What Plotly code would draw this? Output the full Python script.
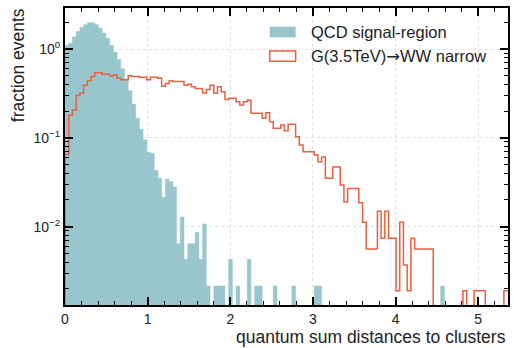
import numpy as np
import plotly.graph_objects as go

# Histogram binning (bin index k covers [k*BIN_WIDTH, (k+1)*BIN_WIDTH])
BIN_WIDTH = 0.045
N_BINS = 119

# Normalised fraction of events per bin, QCD signal-region sample
qcd_fraction = [
    1.10, 1.16, 1.37, 1.57, 1.75, 1.88, 1.98, 1.98, 1.88, 1.72,
    1.51, 1.32, 1.10, 0.92, 0.76, 0.60, 0.46, 0.34, 0.24, 0.165,
    0.125, 0.095, 0.069, 0.067, 0.043, 0.035, 0.0215, 0.0344, 0.0323, 0.028,
    0.00645, 0.0129, 0.0043, 0.00645, 0.00645, 0.0086, 0.0043, 0.01075, 0.00215, 0,
    0.00215, 0.00215, 0.00215, 0, 0.0043, 0, 0.00215, 0, 0, 0.0043,
    0, 0.00215, 0.00215, 0, 0, 0, 0.00215, 0, 0, 0,
    0, 0.00215, 0, 0, 0, 0, 0, 0.00215, 0.00215, 0,
    0, 0, 0, 0, 0, 0, 0, 0, 0, 0,
    0, 0, 0, 0, 0, 0, 0, 0, 0, 0,
    0, 0, 0, 0, 0, 0, 0, 0, 0, 0,
    0, 0.00215, 0, 0, 0, 0, 0, 0, 0, 0,
    0, 0, 0, 0, 0, 0, 0, 0, 0,
]

# Normalised fraction of events per bin, G(3.5 TeV) -> WW narrow signal
signal_fraction = [
    0.065, 0.18, 0.206, 0.30, 0.317, 0.39, 0.44, 0.49, 0.54, 0.54,
    0.52, 0.52, 0.497, 0.51, 0.47, 0.45, 0.45, 0.50, 0.49, 0.49,
    0.48, 0.48, 0.45, 0.48, 0.48, 0.47, 0.38, 0.41, 0.44, 0.43,
    0.43, 0.43, 0.39, 0.40, 0.376, 0.36, 0.36, 0.32, 0.35, 0.39,
    0.317, 0.376, 0.33, 0.27, 0.28, 0.28, 0.255, 0.235, 0.255, 0.265,
    0.189, 0.189, 0.189, 0.166, 0.192, 0.152, 0.128, 0.128, 0.14, 0.12,
    0.142, 0.142, 0.103, 0.083, 0.07, 0.07, 0.07, 0.064, 0.054, 0.061,
    0.035, 0.035, 0.047, 0.047, 0.0295, 0.019, 0.027, 0.027, 0.027, 0.0186,
    0.0112, 0.0056, 0.0056, 0.0056, 0.0149, 0.0074, 0.0149, 0.0074, 0.0074, 0.0019,
    0.0112, 0.0037, 0.0019, 0.0074, 0.0056, 0.0056, 0.0056, 0.0056, 0.0056, 0,
    0, 0, 0, 0, 0, 0, 0, 0.0019, 0, 0,
    0.0019, 0.0019, 0.0019, 0, 0, 0, 0, 0, 0.0019,
]

ARROW = "<span style='font-family:DejaVu Sans'>\u2192</span>"
series_names = ["QCD signal-region", "G(3.5TeV)" + ARROW + "WW narrow"]
x_tick_values = [0, 1, 2, 3, 4, 5]
y_tick_values = [0.01, 0.1, 1]
y_tick_labels = ["10<sup>\u22122</sup>", "10<sup>\u22121</sup>", "10<sup>0</sup>"]

TEAL = "rgb(152,198,204)"
RED = "rgb(232,96,64)"
FONT = "Liberation Sans, Arial, Helvetica, sans-serif"
TEXT = "#222222"

edges = np.arange(N_BINS + 1) * BIN_WIDTH
X_MAX = 5.36
Y_LOG_RANGE = [-2.881, 0.4615]
FLOOR = 1e-5  # empty bins drop below the visible range


def step_outline(values):
    """Corner points of a histogram outline, empty bins sent to FLOOR."""
    v = np.asarray(values, dtype=float)
    v = np.where(v > 0, v, FLOOR)
    xs = np.repeat(edges, 2)[1:-1]
    ys = np.repeat(v, 2)
    xs = np.concatenate([[edges[0]], xs, [edges[-1]]])
    ys = np.concatenate([[FLOOR], ys, [FLOOR]])
    return xs, ys


fig = go.Figure()

# filled histogram (one closed polygon)
qx, qy = step_outline(qcd_fraction)
fig.add_trace(go.Scatter(
    x=qx, y=qy, mode="lines", fill="toself", fillcolor=TEAL,
    line=dict(color=TEAL, width=0.5),
    showlegend=False, hoverinfo="skip",
))

# step-outline histogram
sx, sy = step_outline(signal_fraction)
fig.add_trace(go.Scatter(
    x=sx[:-1], y=sy[:-1], mode="lines",
    line=dict(color=RED, width=1.5),
    showlegend=False, hoverinfo="skip",
))

axis_common = dict(
    showline=True, linecolor="black", linewidth=2, mirror="allticks",
    ticks="inside", ticklen=8, tickwidth=1.5, tickcolor="black",
    showgrid=True, gridcolor="#e0e0e0", griddash="dot", gridwidth=1,
    zeroline=False,
    tickfont=dict(family=FONT, size=14, color=TEXT),
)

minor_y = [k * 10.0 ** e for e in (-3, -2, -1, 0) for k in range(2, 10)]
minor_y = [v for v in minor_y if Y_LOG_RANGE[0] < np.log10(v) < Y_LOG_RANGE[1]]

fig.update_xaxes(
    range=[0, X_MAX], tickmode="array", tickvals=x_tick_values,
    minor=dict(dtick=0.2, tick0=0, ticks="inside", ticklen=4,
               tickwidth=1.2, tickcolor="black", showgrid=False),
    **axis_common,
)
fig.update_yaxes(
    type="log", range=Y_LOG_RANGE, tickmode="array",
    tickvals=y_tick_values, ticktext=y_tick_labels,
    minor=dict(tickmode="array", tickvals=minor_y, ticks="inside", ticklen=4,
               tickwidth=1.2, tickcolor="black", showgrid=False),
    **axis_common,
)

# legend keys and labels
shapes = [
    dict(type="rect", xref="paper", yref="paper",
         x0=0.4622, x1=0.5207, y0=0.901, y1=0.937,
         fillcolor=TEAL, line=dict(width=0)),
    dict(type="rect", xref="paper", yref="paper",
         x0=0.4622, x1=0.5207, y0=0.821, y1=0.855,
         fillcolor="rgba(0,0,0,0)", line=dict(color=RED, width=1.5)),
]
annotations = [
    dict(text=series_names[0], xref="paper", yref="paper", x=0.551, y=0.918,
         xanchor="left", yanchor="middle", showarrow=False,
         font=dict(family=FONT, size=16.5, color=TEXT)),
    dict(text=series_names[1], xref="paper", yref="paper", x=0.551, y=0.837,
         xanchor="left", yanchor="middle", showarrow=False,
         font=dict(family=FONT, size=16.5, color=TEXT)),
    dict(text="quantum sum distances to clusters", xref="paper", yref="paper",
         x=1.0, y=-0.108, xanchor="right", yanchor="middle", showarrow=False,
         font=dict(family=FONT, size=17.5, color=TEXT)),
    dict(text="fraction events", xref="paper", yref="paper",
         x=-0.107, y=0.806, xanchor="center", yanchor="middle", showarrow=False,
         textangle=-90, font=dict(family=FONT, size=17.5, color=TEXT)),
]

fig.update_layout(
    width=514, height=348,
    margin=dict(l=65, r=4, t=8, b=43),
    paper_bgcolor="white", plot_bgcolor="white",
    shapes=shapes, annotations=annotations,
    showlegend=False,
)

fig.write_html("out.html")
